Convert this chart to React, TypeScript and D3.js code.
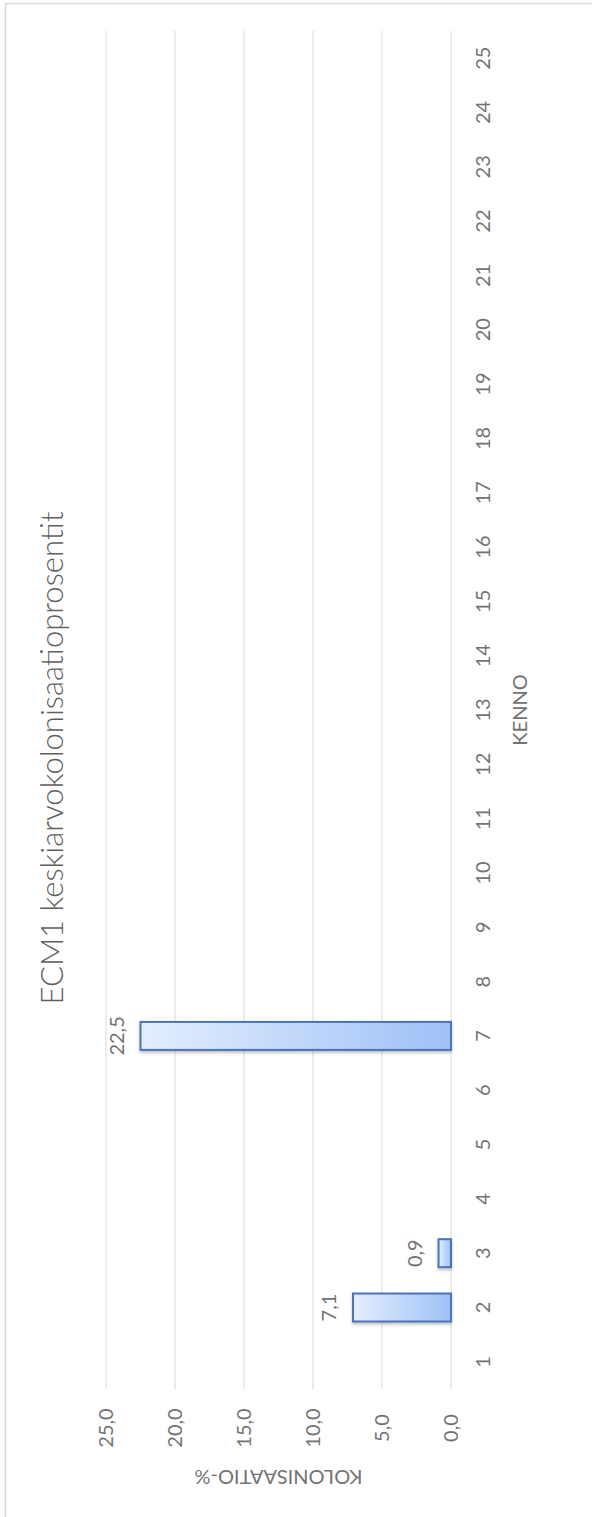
import * as d3 from 'd3';

// kenno numbers 1..25 and the mean colonisation % (only 2, 3 and 7 have a value)
const kennot = d3.range(1, 26).map(String);
const arvot: (number | null)[] = [
  null, 7.1, 0.9, null, null, null, 22.5, null, null, null, null, null, null,
  null, null, null, null, null, null, null, null, null, null, null, null,
];
const arvoTicks = [0, 5, 10, 15, 20, 25];

const otsikko = 'ECM1 keskiarvokolonisaatioprosentit';
const kategoriaAkseli = 'KENNO';
const arvoAkseli = 'KOLONISAATIO-%';

const W = 592;
const H = 1517;
const FONT = 'Lato, Carlito, "Open Sans", sans-serif';
const GREY = '#737373';

const fmt = (v: number) => d3.format('.1f')(v).replace('.', ',');

export default function App() {
  // chart is rotated: values run right-to-left, categories bottom-to-top
  const x = d3.scaleLinear().domain([0, 25]).range([451, 106]);
  const y = d3
    .scaleBand<string>()
    .domain(kennot)
    .range([1389, 31])
    .paddingInner(0.485)
    .paddingOuter(0.2425);

  const plotTop = 31;
  const plotBottom = 1389;
  const mid = (k: string) => (y(k) ?? 0) + y.bandwidth() / 2;

  return (
    <svg
      width={W}
      height={H}
      style={{ position: 'absolute', left: 0, top: 0, display: 'block' }}
      fontFamily={FONT}
    >
      <defs>
        <linearGradient id="barFill" x1="0" x2="1" y1="0" y2="0">
          <stop offset="0%" stopColor="#e4eeff" />
          <stop offset="100%" stopColor="#9ec1f6" />
        </linearGradient>
        <filter id="shadow" x="-20%" y="-20%" width="140%" height="160%">
          <feDropShadow dx="0" dy="2" stdDeviation="1.5" floodColor="#000" floodOpacity="0.25" />
        </filter>
      </defs>

      <rect x={0} y={0} width={W} height={H} fill="#fff" />
      {/* chart border, right and bottom edges fall outside the page */}
      <rect x={5.5} y={3.5} width={W + 10} height={H + 10} fill="none" stroke="#d9d9d9" strokeWidth={1.5} />

      {/* gridlines */}
      <g>
        {arvoTicks.map((t) => (
          <line key={t} x1={x(t)} x2={x(t)} y1={plotTop} y2={plotBottom} stroke="#d9d9d9" strokeWidth={1} />
        ))}
      </g>

      {/* value tick labels */}
      <g fill={GREY} fontSize={20}>
        {arvoTicks.map((t) => (
          <text key={t} transform={`translate(${x(t)},1428) rotate(-90)`} textAnchor="middle" dy="0.35em">
            {fmt(t)}
          </text>
        ))}
      </g>

      {/* category tick labels */}
      <g fill={GREY} fontSize={20}>
        {kennot.map((k) => (
          <text key={k} transform={`translate(483,${mid(k)}) rotate(-90)`} textAnchor="middle" dy="0.35em">
            {k}
          </text>
        ))}
      </g>

      {/* bars */}
      <g>
        {kennot.map((k, i) => {
          const v = arvot[i];
          if (v == null) return null;
          return (
            <rect
              key={k}
              x={x(v)}
              y={y(k)}
              width={x(0) - x(v)}
              height={y.bandwidth()}
              fill="url(#barFill)"
              stroke="#4a74b8"
              strokeWidth={2}
              filter="url(#shadow)"
            />
          );
        })}
      </g>

      {/* data labels */}
      <g fill={GREY} fontSize={20}>
        {kennot.map((k, i) => {
          const v = arvot[i];
          if (v == null) return null;
          return (
            <text key={k} transform={`translate(${x(v) - 17},${mid(k)}) rotate(-90)`} textAnchor="middle">
              {fmt(v)}
            </text>
          );
        })}
      </g>

      {/* title */}
      <text
        transform="translate(52,758) rotate(-90)"
        textAnchor="middle"
        dy="0.35em"
        fontSize={31}
        fontWeight={300}
        fill="#5f5f5f"
      >
        {otsikko}
      </text>

      {/* axis titles */}
      <text
        transform={`translate(520,${(plotTop + plotBottom) / 2}) rotate(-90)`}
        textAnchor="middle"
        dy="0.35em"
        fontSize={20}
        fill={GREY}
      >
        {kategoriaAkseli}
      </text>
      <text
        transform={`translate(${(x(0) + x(25)) / 2},1477) rotate(180)`}
        textAnchor="middle"
        dy="0.35em"
        fontSize={20}
        fill={GREY}
      >
        {arvoAkseli}
      </text>
    </svg>
  );
}
